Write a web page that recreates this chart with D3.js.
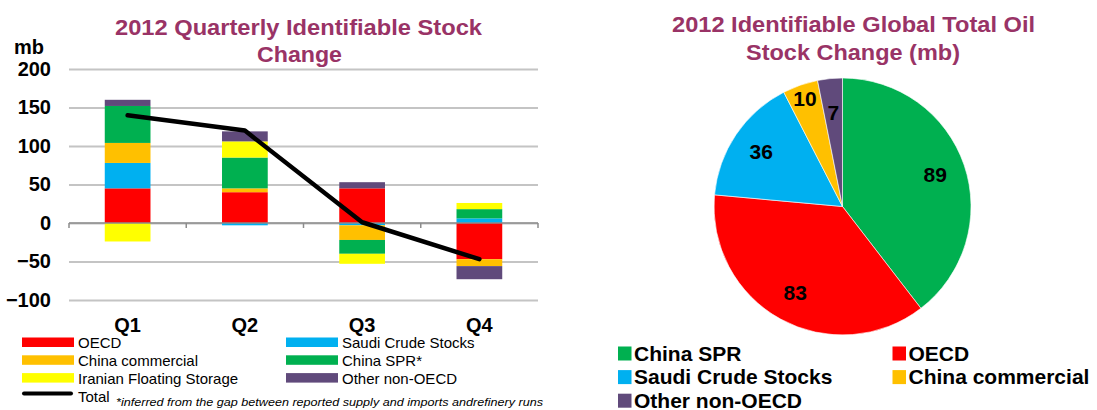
<!doctype html>
<html>
<head>
<meta charset="utf-8">
<style>
    body { margin: 0; background: #fff; }
    text { font-family: Arial, "Liberation Sans", sans-serif; }
    .title { fill: #993366; font-weight: bold; font-size: 22px; }
    .ylab text { font-weight: bold; font-size: 20px; fill: #000; }
</style>
<script src="https://d3js.org/d3.v7.min.js"></script>
</head>
<body>
<svg width="1097" height="410" id="chart"></svg>
<script>
    // quarterly stacked bars
    var quarters = ["Q1", "Q2", "Q3", "Q4"];
    var seriesNames = ["OECD", "Saudi Crude Stocks", "China commercial", "China SPR*", "Iranian Floating Storage", "Other non-OECD"];
    var seriesColors = ["#ff0000", "#00b0f0", "#ffc000", "#00b050", "#ffff00", "#604a7b"];
    var oecd = [45, 40, 45, -47];
    var saudi = [33, -3, -3, 6];
    var chinaCommercial = [26, 5, -19, -9];
    var chinaSPR = [48, 40, -18, 12];
    var iranian = [-24, 21, -13, 8];
    var otherNonOECD = [8, 13, 8, -17];
    var total = [140, 120, 1, -47];
    var yTicks = [-100, -50, 0, 50, 100, 150, 200];

    // 2012 pie
    var pieNames = ["China SPR", "OECD", "Saudi Crude Stocks", "China commercial", "Other non-OECD"];
    var pieValues = [89, 83, 36, 10, 7];
    var pieColors = ["#00b050", "#ff0000", "#00b0f0", "#ffc000", "#604a7b"];

    var svg = d3.select("#chart");

    function title(tx, ty, str, len) {
        svg.append("text").attr("class", "title").attr("x", tx).attr("y", ty)
           .attr("text-anchor", "middle")
           .attr("textLength", len).attr("lengthAdjust", "spacingAndGlyphs")
           .text(str);
    }

    // ---------- bar chart ----------
    var x0 = 69, x1 = 538;
    var x = d3.scaleBand().domain(quarters).range([x0, x1]).paddingInner(0.61).paddingOuter(0.305);
    var y = d3.scaleLinear().domain([-100, 200]).range([300, 69]);

    title(298.5, 35, "2012 Quarterly Identifiable Stock", 367);
    title(299.5, 62, "Change", 85);

    svg.append("text").attr("x", 14).attr("y", 54)
       .attr("font-weight", "bold").attr("font-size", "20px").text("mb");

    var yAxis = svg.append("g")
        .attr("class", "ylab")
        .attr("transform", "translate(" + x0 + ",0)")
        .call(d3.axisLeft(y).tickValues(yTicks).tickSize(-(x1 - x0)).tickPadding(18));
    yAxis.select(".domain").remove();
    yAxis.selectAll("line").attr("stroke", "#c4c4c4").attr("stroke-width", 1.8);
    yAxis.selectAll("text").attr("font-family", "Arial, 'Liberation Sans', sans-serif");

    var rows = quarters.map(function(q, i) {
        return {q: q, s0: oecd[i], s1: saudi[i], s2: chinaCommercial[i], s3: chinaSPR[i], s4: iranian[i], s5: otherNonOECD[i]};
    });
    var stack = d3.stack().keys(["s0", "s1", "s2", "s3", "s4", "s5"]).offset(d3.stackOffsetDiverging);
    var layers = stack(rows);

    svg.append("g").selectAll("g")
       .data(layers)
       .enter().append("g")
       .attr("fill", function(d, i) { return seriesColors[i]; })
       .selectAll("rect")
       .data(function(d) { return d; })
       .enter().append("rect")
       .attr("x", function(d) { return x(d.data.q); })
       .attr("width", x.bandwidth())
       .attr("y", function(d) { return y(Math.max(d[0], d[1])); })
       .attr("height", function(d) { return Math.abs(y(d[0]) - y(d[1])); });

    // zero axis with category tick marks
    var zero = svg.append("g").attr("transform", "translate(0," + y(0) + ")");
    zero.append("line").attr("x1", x0).attr("x2", x1)
        .attr("stroke", "#8c8c8c").attr("stroke-width", 1.5);
    var bounds = quarters.map(function(q) { return x(q) - x.step() * x.paddingInner() / 2; });
    bounds.push(x1);
    zero.selectAll(".tk").data(bounds).enter().append("line")
        .attr("x1", function(d) { return d; }).attr("x2", function(d) { return d; })
        .attr("y1", 0).attr("y2", 5)
        .attr("stroke", "#8c8c8c").attr("stroke-width", 1.5);

    // total line
    var line = d3.line()
        .x(function(d, i) { return x(quarters[i]) + x.bandwidth() / 2; })
        .y(function(d) { return y(d); });
    svg.append("path").datum(total)
       .attr("d", line)
       .attr("fill", "none").attr("stroke", "#000")
       .attr("stroke-width", 4.5).attr("stroke-linecap", "round").attr("stroke-linejoin", "round");

    svg.append("g").selectAll("text")
       .data(quarters).enter().append("text")
       .attr("x", function(d) { return x(d) + x.bandwidth() / 2; })
       .attr("y", 332)
       .attr("text-anchor", "middle")
       .attr("font-weight", "bold").attr("font-size", "20px")
       .text(function(d) { return d; });

    // legend (two columns, row-wise)
    var leg = svg.append("g");
    seriesNames.forEach(function(name, i) {
        var col = i % 2, row = Math.floor(i / 2);
        var lx = col ? 286 : 22, ly = 337.5 + row * 17.8;
        leg.append("rect").attr("x", lx).attr("y", ly).attr("width", 52).attr("height", 9.5)
           .attr("fill", seriesColors[i]);
        leg.append("text").attr("x", lx + 56).attr("y", ly + 10.5)
           .attr("font-size", "15px").text(name);
    });
    leg.append("line").attr("x1", 24).attr("x2", 71).attr("y1", 393.5).attr("y2", 393.5)
       .attr("stroke", "#000").attr("stroke-width", 4).attr("stroke-linecap", "round");
    leg.append("text").attr("x", 78).attr("y", 401.5).attr("font-size", "15px").text("Total");
    leg.append("text").attr("x", 116).attr("y", 406)
       .attr("font-size", "11.5px").attr("font-style", "italic")
       .attr("textLength", 427).attr("lengthAdjust", "spacingAndGlyphs")
       .text("*inferred from the gap between reported supply and imports andrefinery runs");

    // ---------- pie chart ----------
    title(853.5, 32, "2012 Identifiable Global Total Oil", 363);
    title(853, 60, "Stock Change (mb)", 214);

    var cx = 842.5, cy = 206.5, r = 128.5;
    var pie = d3.pie().sort(null);
    var arcs = pie(pieValues);
    var arc = d3.arc().innerRadius(0).outerRadius(r);
    var sum = d3.sum(pieValues);

    var pg = svg.append("g").attr("transform", "translate(" + cx + "," + cy + ")");
    pg.selectAll("path").data(arcs).enter().append("path")
      .attr("d", arc)
      .attr("fill", function(d, i) { return pieColors[i]; })
      .attr("stroke", "#fff").attr("stroke-width", 0.6);

    pg.selectAll("text").data(arcs).enter().append("text")
      .attr("transform", function(d) {
          var lr = d.value / sum < 0.05 ? (d.value < 8 ? 95 : 114) : 98;
          var c = d3.arc().innerRadius(lr).outerRadius(lr).centroid(d);
          return "translate(" + c[0] + "," + c[1] + ")";
      })
      .attr("dy", "0.36em")
      .attr("text-anchor", "middle")
      .attr("font-weight", "bold").attr("font-size", "21px")
      .text(function(d) { return d.value; });

    var pl = svg.append("g");
    pieNames.forEach(function(name, i) {
        var col = i % 2, row = Math.floor(i / 2);
        var lx = col ? 892.5 : 618, ly = 360.5 + row * 23.6;
        pl.append("rect").attr("x", lx).attr("y", ly - 14).attr("width", 13.5).attr("height", 14)
          .attr("fill", pieColors[i]);
        pl.append("text").attr("x", lx + 16).attr("y", ly)
          .attr("font-weight", "bold").attr("font-size", "21px").text(name);
    });
</script>
</body>
</html>
